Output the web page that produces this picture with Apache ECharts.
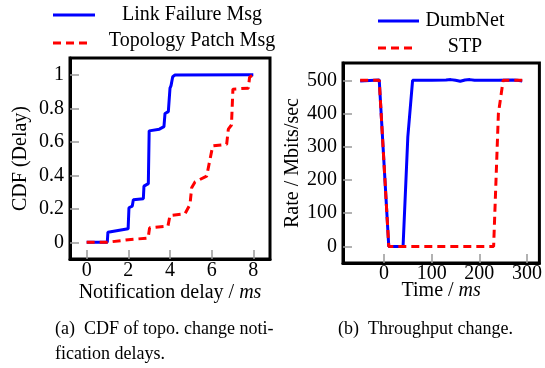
<!DOCTYPE html>
<html>
<head>
<meta charset="utf-8">
<script src="https://cdn.jsdelivr.net/npm/echarts@6/dist/echarts.min.js"></script>
<style>
  html, body { margin: 0; padding: 0; background: #fff; }
  #chart { width: 545px; height: 368px; }
</style>
</head>
<body>
<div id="chart"></div>
<script>
// (a) CDF of topo. change notification delays
const linkDelay = [0, 0.99, 1.02, 1.99, 2.03, 2.19, 2.24, 2.72, 2.75, 2.96, 3.0, 3.49, 3.71, 3.76, 3.92, 4.0, 4.05, 4.13, 4.24, 8];
const linkCdf = [0, 0, 0.06, 0.08, 0.206, 0.216, 0.254, 0.26, 0.335, 0.35, 0.665, 0.675, 0.69, 0.769, 0.78, 0.92, 0.935, 0.988, 0.998, 1];
const patchDelay = [0, 1, 2, 2.95, 3.02, 3.9, 4.0, 4.72, 4.96, 5.04, 5.2, 5.76, 6.05, 6.72, 6.8, 6.95, 7.02, 7.76, 7.82, 8];
const patchCdf = [0, 0, 0.015, 0.025, 0.086, 0.096, 0.16, 0.17, 0.226, 0.326, 0.36, 0.395, 0.575, 0.585, 0.675, 0.7, 0.914, 0.92, 0.985, 1];
const delayTicks = [0, 2, 4, 6, 8];
const cdfTicks = [0, 0.2, 0.4, 0.6, 0.8, 1];

// (b) Throughput change
const dumbTime = [-50, -10, 10, 40, 50, 60, 100, 130, 140, 150, 160, 170, 180, 190, 240, 270, 280, 290];
const dumbRate = [498, 501, 0, 0, 330, 500, 500, 501, 502, 500, 497, 501, 502, 500, 500, 501, 500, 498];
const stpTime = [-50, -10, 10, 230, 240, 250, 290];
const stpRate = [500, 500, 0, 0, 400, 500, 500];
const timeTicks = [0, 100, 200, 300];
const rateTicks = [0, 100, 200, 300, 400, 500];

const zip = (xs, ys) => xs.map((x, i) => [x, ys[i]]);
const FONT = "'Liberation Serif', 'DejaVu Serif', serif";
const BLUE = '#0000ff';
const RED = '#ff0000';
const DASH = [8, 5];

const chart = echarts.init(document.getElementById('chart'), null, { renderer: 'canvas' });

// 共用的坐标轴样式
function axis(grid, min, max, ticks, labelMargin, extra) {
  return Object.assign({
    gridIndex: grid,
    type: 'value',
    min: min,
    max: max,
    axisLine: { show: true, onZero: false, lineStyle: { color: '#000', width: 3 } },
    axisTick: { show: true, inside: true, length: 9, customValues: ticks, lineStyle: { color: '#999', width: 1.5 } },
    axisLabel: { customValues: ticks, color: '#000', fontFamily: FONT, fontSize: 20, margin: labelMargin },
    splitLine: { show: false },
    nameLocation: 'middle',
    nameMoveOverlap: false,
    nameTextStyle: {
      color: '#000', fontFamily: FONT, fontSize: 20,
      rich: { i: { color: '#000', fontFamily: FONT, fontSize: 20, fontStyle: 'italic' } },
    },
  }, extra);
}

const frame = { show: true, borderColor: '#000', borderWidth: 3, backgroundColor: 'transparent' };

const option = {
  animation: false,
  backgroundColor: '#fff',
  grid: [
    Object.assign({ left: 70, top: 58, width: 200, height: 201 }, frame),
    Object.assign({ left: 343, top: 63, width: 200, height: 200 }, frame),
  ],
  xAxis: [
    axis(0, -0.8, 8.8, delayTicks, 2, { name: 'Notification delay / {i|ms}', nameGap: 24 }),
    axis(1, -86, 326, timeTicks, 1, { name: 'Time / {i|ms}', nameGap: 18 }),
  ],
  yAxis: [
    axis(0, -0.1, 1.1, cdfTicks, 6, { name: 'CDF (Delay)', nameGap: 39 }),
    axis(1, -50, 552, rateTicks, 6, { name: 'Rate / Mbits/sec', nameGap: 40 }),
  ],
  series: [
    {
      name: 'Link Failure Msg', type: 'line', xAxisIndex: 0, yAxisIndex: 0,
      data: zip(linkDelay, linkCdf), showSymbol: false,
      lineStyle: { color: BLUE, width: 3 },
    },
    {
      name: 'Topology Patch Msg', type: 'line', xAxisIndex: 0, yAxisIndex: 0,
      data: zip(patchDelay, patchCdf), showSymbol: false,
      lineStyle: { color: RED, width: 3, type: DASH },
    },
    {
      name: 'DumbNet', type: 'line', xAxisIndex: 1, yAxisIndex: 1,
      data: zip(dumbTime, dumbRate), showSymbol: false,
      lineStyle: { color: BLUE, width: 3 },
    },
    {
      name: 'STP', type: 'line', xAxisIndex: 1, yAxisIndex: 1,
      data: zip(stpTime, stpRate), showSymbol: false,
      lineStyle: { color: RED, width: 3, type: DASH },
    },
  ],
  graphic: [
    // 图例 (a)
    { type: 'line', shape: { x1: 53, y1: 15, x2: 95, y2: 15 }, style: { stroke: BLUE, lineWidth: 3 } },
    { type: 'text', x: 192, y: 15, style: { text: 'Link Failure Msg', fontFamily: FONT, fontSize: 20, fill: '#000', align: 'center', verticalAlign: 'middle' } },
    { type: 'line', shape: { x1: 53, y1: 43, x2: 92, y2: 43 }, style: { stroke: RED, lineWidth: 3, lineDash: DASH } },
    { type: 'text', x: 192, y: 41, style: { text: 'Topology Patch Msg', fontFamily: FONT, fontSize: 20, fill: '#000', align: 'center', verticalAlign: 'middle' } },
    // 图例 (b)
    { type: 'line', shape: { x1: 378, y1: 21, x2: 419, y2: 21 }, style: { stroke: BLUE, lineWidth: 3 } },
    { type: 'text', x: 465, y: 21, style: { text: 'DumbNet', fontFamily: FONT, fontSize: 20, fill: '#000', align: 'center', verticalAlign: 'middle' } },
    { type: 'line', shape: { x1: 378, y1: 48, x2: 416, y2: 48 }, style: { stroke: RED, lineWidth: 3, lineDash: DASH } },
    { type: 'text', x: 465, y: 47, style: { text: 'STP', fontFamily: FONT, fontSize: 20, fill: '#000', align: 'center', verticalAlign: 'middle' } },
    // 子图标题
    { type: 'text', x: 55, y: 317, style: { text: '(a)  CDF of topo. change noti-\nfication delays.', fontFamily: FONT, fontSize: 18, lineHeight: 25, fill: '#000', align: 'left', verticalAlign: 'top' } },
    { type: 'text', x: 338, y: 317, style: { text: '(b)  Throughput change.', fontFamily: FONT, fontSize: 18, lineHeight: 25, fill: '#000', align: 'left', verticalAlign: 'top' } },
  ],
};

chart.setOption(option);
</script>
</body>
</html>
